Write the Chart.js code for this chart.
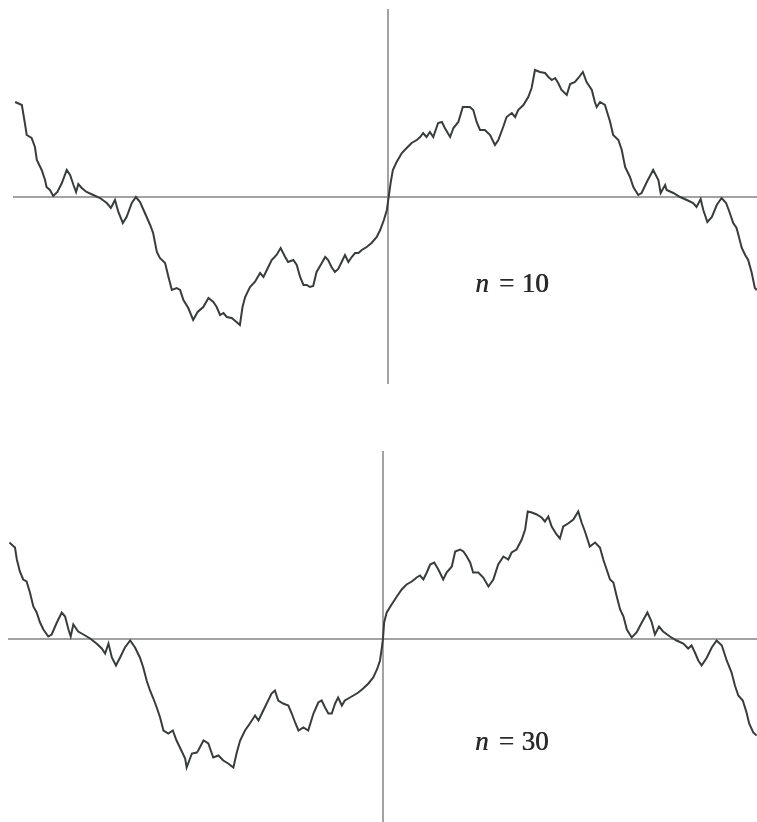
<!DOCTYPE html>
<html>
<head>
<meta charset="utf-8">
<script src="https://cdn.jsdelivr.net/npm/chart.js@4.4.1/dist/chart.umd.min.js"></script>
<style>
  html, body { margin: 0; padding: 0; background: #fff; overflow: hidden; width: 757px; height: 822px; }
  .panel { position: absolute; left: 0; }
  #panelTop { top: 0; width: 762px; height: 384px; }
  #panelBottom { top: 440px; width: 757px; height: 382px; }
</style>
</head>
<body>
<div class="panel" id="panelTop"><canvas id="chartTop"></canvas></div>
<div class="panel" id="panelBottom"><canvas id="chartBottom"></canvas></div>
<script>
// Partial sums S_n(x) on [-1, 1], sampled points [x, y]
const curveN10 = [
  [-0.997,0.95],[-0.979,0.92],[-0.971,0.74],[-0.966,0.62],[-0.953,0.59],[-0.944,0.50],[-0.939,0.37],[-0.926,0.27],
  [-0.917,0.17],[-0.913,0.10],[-0.904,0.07],[-0.895,0.01],[-0.884,0.05],[-0.872,0.14],[-0.859,0.27],[-0.850,0.22],
  [-0.841,0.12],[-0.834,0.05],[-0.828,0.13],[-0.819,0.09],[-0.806,0.05],[-0.788,0.02],[-0.770,-0.01],[-0.752,-0.06],
  [-0.741,-0.11],[-0.730,-0.03],[-0.721,-0.15],[-0.709,-0.26],[-0.699,-0.20],[-0.685,-0.06],[-0.674,0.00],[-0.663,-0.05],
  [-0.650,-0.16],[-0.636,-0.28],[-0.628,-0.36],[-0.618,-0.55],[-0.610,-0.61],[-0.596,-0.66],[-0.587,-0.80],[-0.578,-0.93],
  [-0.565,-0.91],[-0.556,-0.93],[-0.547,-1.03],[-0.534,-1.11],[-0.521,-1.23],[-0.509,-1.15],[-0.494,-1.10],[-0.480,-1.01],
  [-0.467,-1.05],[-0.458,-1.10],[-0.449,-1.18],[-0.440,-1.16],[-0.431,-1.20],[-0.418,-1.21],[-0.405,-1.25],[-0.396,-1.28],
  [-0.389,-1.10],[-0.382,-1.00],[-0.369,-0.90],[-0.356,-0.85],[-0.342,-0.76],[-0.333,-0.80],[-0.324,-0.73],[-0.311,-0.63],
  [-0.298,-0.58],[-0.287,-0.51],[-0.275,-0.60],[-0.267,-0.65],[-0.253,-0.63],[-0.244,-0.68],[-0.235,-0.80],[-0.226,-0.88],
  [-0.217,-0.88],[-0.209,-0.90],[-0.200,-0.89],[-0.191,-0.75],[-0.177,-0.66],[-0.168,-0.60],[-0.160,-0.63],[-0.151,-0.70],
  [-0.142,-0.75],[-0.133,-0.72],[-0.124,-0.65],[-0.115,-0.58],[-0.106,-0.65],[-0.097,-0.60],[-0.088,-0.56],[-0.079,-0.56],
  [-0.070,-0.53],[-0.057,-0.50],[-0.044,-0.46],[-0.030,-0.40],[-0.021,-0.33],[-0.011,-0.23],[-0.003,-0.13],[0.001,-0.02],
  [0.007,0.14],[0.013,0.27],[0.023,0.35],[0.037,0.44],[0.050,0.49],[0.063,0.54],[0.077,0.57],[0.086,0.60],
  [0.094,0.64],[0.103,0.60],[0.112,0.65],[0.121,0.60],[0.134,0.74],[0.144,0.75],[0.152,0.69],[0.166,0.60],
  [0.175,0.69],[0.188,0.75],[0.200,0.90],[0.210,0.90],[0.219,0.90],[0.228,0.87],[0.237,0.75],[0.246,0.67],
  [0.259,0.67],[0.273,0.62],[0.286,0.52],[0.295,0.57],[0.308,0.70],[0.317,0.80],[0.331,0.84],[0.340,0.80],
  [0.348,0.87],[0.362,0.92],[0.375,1.00],[0.384,1.09],[0.393,1.27],[0.406,1.25],[0.420,1.24],[0.429,1.20],
  [0.438,1.17],[0.447,1.19],[0.455,1.14],[0.464,1.07],[0.478,1.02],[0.487,1.13],[0.500,1.15],[0.509,1.19],
  [0.521,1.25],[0.531,1.15],[0.545,1.07],[0.553,0.95],[0.558,0.90],[0.567,0.95],[0.580,0.92],[0.594,0.75],
  [0.602,0.62],[0.616,0.57],[0.625,0.47],[0.634,0.30],[0.647,0.20],[0.656,0.10],[0.669,0.02],[0.678,0.04],
  [0.692,0.15],[0.709,0.27],[0.723,0.17],[0.729,0.04],[0.741,0.12],[0.745,0.07],[0.763,0.04],[0.781,0.00],
  [0.799,-0.03],[0.816,-0.06],[0.825,-0.10],[0.836,-0.02],[0.843,-0.13],[0.854,-0.25],[0.866,-0.20],[0.879,-0.08],
  [0.892,-0.01],[0.904,-0.06],[0.914,-0.16],[0.923,-0.26],[0.932,-0.31],[0.946,-0.51],[0.955,-0.58],[0.963,-0.63],
  [0.972,-0.75],[0.981,-0.91],[0.986,-0.93]
];

const curveN30 = [
  [-0.999,0.96],[-0.984,0.91],[-0.979,0.79],[-0.971,0.67],[-0.962,0.59],[-0.953,0.57],[-0.944,0.46],[-0.935,0.32],
  [-0.926,0.26],[-0.917,0.16],[-0.908,0.09],[-0.895,0.02],[-0.886,0.04],[-0.872,0.16],[-0.859,0.26],[-0.850,0.22],
  [-0.841,0.09],[-0.835,0.02],[-0.828,0.14],[-0.815,0.07],[-0.801,0.04],[-0.783,0.00],[-0.766,-0.05],[-0.752,-0.10],
  [-0.743,-0.15],[-0.734,-0.05],[-0.725,-0.19],[-0.714,-0.27],[-0.703,-0.19],[-0.690,-0.09],[-0.676,-0.02],[-0.663,-0.09],
  [-0.650,-0.19],[-0.641,-0.29],[-0.632,-0.42],[-0.623,-0.52],[-0.614,-0.60],[-0.605,-0.69],[-0.596,-0.79],[-0.587,-0.92],
  [-0.574,-0.95],[-0.562,-0.92],[-0.552,-1.02],[-0.543,-1.09],[-0.529,-1.20],[-0.525,-1.29],[-0.511,-1.15],[-0.498,-1.14],
  [-0.494,-1.12],[-0.480,-1.02],[-0.467,-1.05],[-0.454,-1.19],[-0.440,-1.17],[-0.427,-1.22],[-0.414,-1.25],[-0.400,-1.29],
  [-0.391,-1.14],[-0.382,-1.02],[-0.369,-0.92],[-0.356,-0.85],[-0.342,-0.77],[-0.333,-0.82],[-0.324,-0.75],[-0.311,-0.65],
  [-0.298,-0.55],[-0.289,-0.52],[-0.280,-0.62],[-0.267,-0.65],[-0.253,-0.67],[-0.244,-0.75],[-0.235,-0.84],[-0.226,-0.92],
  [-0.213,-0.89],[-0.200,-0.92],[-0.186,-0.75],[-0.173,-0.64],[-0.164,-0.62],[-0.155,-0.69],[-0.146,-0.75],[-0.137,-0.75],
  [-0.128,-0.65],[-0.120,-0.59],[-0.110,-0.67],[-0.102,-0.62],[-0.093,-0.60],[-0.079,-0.57],[-0.066,-0.54],[-0.053,-0.50],
  [-0.039,-0.45],[-0.026,-0.39],[-0.015,-0.30],[-0.008,-0.22],[-0.003,-0.09],[0.000,0.00],[0.003,0.16],[0.010,0.26],
  [0.023,0.34],[0.037,0.42],[0.050,0.49],[0.063,0.54],[0.077,0.57],[0.090,0.61],[0.099,0.63],[0.108,0.59],
  [0.117,0.66],[0.126,0.74],[0.137,0.76],[0.148,0.69],[0.161,0.59],[0.170,0.66],[0.184,0.72],[0.193,0.87],
  [0.206,0.89],[0.215,0.87],[0.224,0.82],[0.233,0.76],[0.241,0.66],[0.255,0.66],[0.268,0.61],[0.282,0.52],
  [0.295,0.59],[0.308,0.74],[0.322,0.82],[0.335,0.79],[0.344,0.86],[0.357,0.89],[0.371,0.99],[0.380,1.09],
  [0.387,1.27],[0.398,1.26],[0.411,1.24],[0.424,1.21],[0.433,1.17],[0.442,1.22],[0.451,1.12],[0.464,1.04],
  [0.473,1.00],[0.482,1.12],[0.495,1.15],[0.509,1.19],[0.522,1.27],[0.531,1.16],[0.540,1.07],[0.553,0.92],
  [0.567,0.96],[0.580,0.91],[0.589,0.79],[0.598,0.69],[0.607,0.59],[0.616,0.56],[0.625,0.42],[0.634,0.29],
  [0.643,0.22],[0.652,0.09],[0.665,0.01],[0.678,0.06],[0.692,0.16],[0.707,0.26],[0.718,0.17],[0.727,0.04],
  [0.738,0.12],[0.749,0.07],[0.767,0.02],[0.785,-0.02],[0.803,-0.05],[0.816,-0.10],[0.825,-0.07],[0.834,-0.14],
  [0.843,-0.22],[0.852,-0.27],[0.866,-0.19],[0.879,-0.09],[0.892,-0.02],[0.906,-0.07],[0.919,-0.22],[0.932,-0.34],
  [0.941,-0.47],[0.950,-0.57],[0.962,-0.62],[0.972,-0.74],[0.979,-0.85],[0.990,-0.94],[0.999,-0.97]
];

// Panel labels: value of n and the data point where the label starts
const panelNs = [10, 30];
const labelAnchors = [[0.233, -0.95], [0.246, -1.115]];
const yRanges = [[-1.86, 1.87], [-1.835, 1.865]];

const AXIS_COLOR = '#a3a3a3';
const CURVE_COLOR = '#383d3a';
const TEXT_COLOR = '#2a2a2a';
const LABEL_SIZE = 27;
const LABEL_FAMILY = '"Liberation Serif", "DejaVu Serif", serif';

// Draws "n = <value>" in math style at a data-space anchor
const nLabelPlugin = {
  id: 'nLabel',
  afterDatasetsDraw(chart, args, opts) {
    const ctx = chart.ctx;
    const px = chart.scales.x.getPixelForValue(opts.at[0]);
    const py = chart.scales.y.getPixelForValue(opts.at[1]);
    const s = LABEL_SIZE;
    const parts = [
      { t: 'n', font: 'italic ' + s + 'px ' + LABEL_FAMILY, dx: 0 },
      { t: '=', font: s + 'px ' + LABEL_FAMILY, dx: 0.88 },
      { t: String(opts.n), font: s + 'px ' + LABEL_FAMILY, dx: 1.72 }
    ];
    ctx.save();
    ctx.fillStyle = TEXT_COLOR;
    ctx.textBaseline = 'alphabetic';
    ctx.textAlign = 'left';
    parts.forEach(p => {
      ctx.font = p.font;
      // two passes half a pixel apart give the heavier print weight
      ctx.fillText(p.t, px + p.dx * s, py);
      ctx.fillText(p.t, px + p.dx * s + 0.6, py);
    });
    ctx.restore();
  }
};

function makePanel(canvasId, curve, n, anchor, yRange, padding) {
  return new Chart(document.getElementById(canvasId), {
    type: 'line',
    data: {
      datasets: [{
        data: curve.map(([x, y]) => ({ x, y })),
        borderColor: CURVE_COLOR,
        borderWidth: 2,
        pointRadius: 0,
        tension: 0,
        fill: false
      }]
    },
    options: {
      responsive: true,
      maintainAspectRatio: false,
      animation: false,
      layout: { padding },
      plugins: {
        legend: { display: false },
        tooltip: { enabled: false },
        nLabel: { n, at: anchor }
      },
      scales: {
        x: {
          type: 'linear',
          min: -1, max: 1,
          position: { y: 0 },
          grid: { display: false },
          ticks: { display: false },
          border: { display: true, color: AXIS_COLOR, width: 2 }
        },
        y: {
          type: 'linear',
          min: yRange[0], max: yRange[1],
          position: { x: 0 },
          grid: { display: false },
          ticks: { display: false },
          border: { display: true, color: AXIS_COLOR, width: 2 }
        }
      }
    },
    plugins: [nLabelPlugin]
  });
}

makePanel('chartTop', curveN10, panelNs[0], labelAnchors[0], yRanges[0], { left: 14, top: 10, right: 0, bottom: 1 });
makePanel('chartBottom', curveN30, panelNs[1], labelAnchors[1], yRanges[1], { left: 9, top: 12, right: 0, bottom: 0 });
</script>
</body>
</html>
